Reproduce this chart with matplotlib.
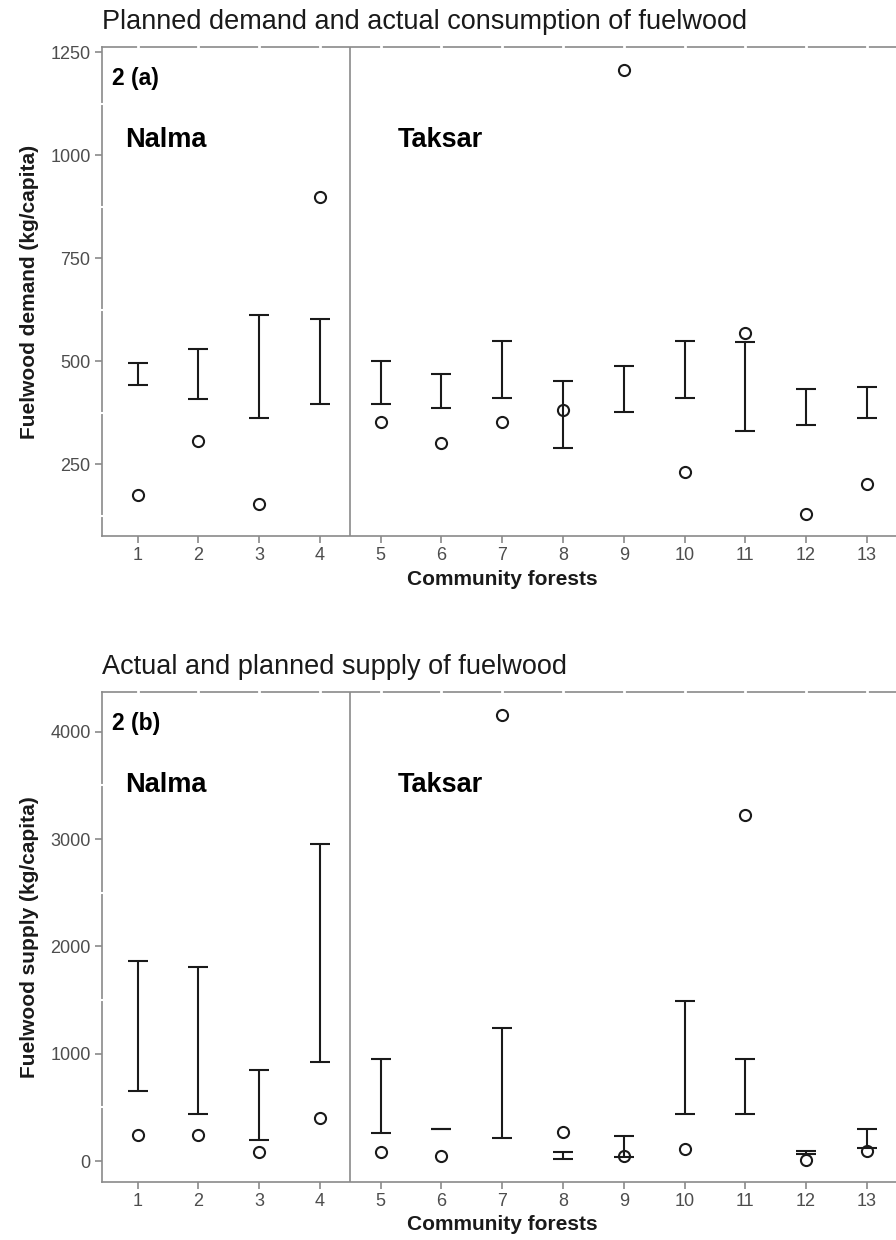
import matplotlib
matplotlib.use("Agg")
import matplotlib.pyplot as plt
import matplotlib.transforms as mtransforms
import numpy as np

plt.rcParams['font.family'] = ['Liberation Sans', 'DejaVu Sans']

# Community forest identifiers (1-4 Nalma, 5-13 Taksar)
forests = list(range(1, 14))
forest_labels = [str(f) for f in forests]

# Panel (a): planned fuelwood demand range and actual consumption (kg/capita)
demand_low = [443, 408, 362, 397, 397, 387, 412, 290, 377, 412, 331, 345, 362]
demand_high = [496, 530, 612, 602, 500, 469, 550, 453, 489, 550, 546, 433, 438]
consumption = [176, 307, 154, 899, 353, 302, 353, 382, 1207, 231, 569, 130, 202]

# Panel (b): planned supply range and actual supply (kg/capita)
supply_low = [650, 435, 196, 923, 258, 295, 214, 19, 34, 435, 435, 68, 118]
supply_high = [1867, 1811, 845, 2951, 948, 295, 1237, 81, 236, 1491, 948, 96, 295]
supply_actual = [242, 242, 87, 404, 87, 47, 4157, 267, 47, 112, 3225, 9, 96]

demand_ticks = [250, 500, 750, 1000, 1250]
supply_ticks = [0, 1000, 2000, 3000, 4000]

AXIS_GREY = '#8a8a8a'
TEXT_GREY = '#4d4d4d'
INK = '#1a1a1a'

fig = plt.figure(figsize=(8.96, 12.4), dpi=100)
ax_a = fig.add_axes([0.1135, 0.5677, 0.894, 0.394])
ax_b = fig.add_axes([0.1135, 0.047, 0.894, 0.3947])


def draw_panel(ax, low, high, points, ticks, ylim, title, ylabel, tag):
    low = np.asarray(low, dtype=float)
    high = np.asarray(high, dtype=float)
    mid = (low + high) / 2
    ax.errorbar(forests, mid, yerr=[mid - low, high - mid], fmt='none',
                ecolor=INK, elinewidth=1.5, capsize=7, capthick=1.5, zorder=3)
    ax.plot(forests, points, linestyle='none', marker='o', markersize=8,
            markerfacecolor='none', markeredgecolor=INK, markeredgewidth=1.5,
            zorder=4)

    ax.set_xlim(0.41, 13.59)
    ax.set_ylim(*ylim)
    ax.set_xticks(forests)
    ax.set_xticklabels(forest_labels)
    ax.set_yticks(ticks)

    # boundary between the two villages
    ax.axvline(4.5, color=AXIS_GREY, lw=1.2, zorder=2)

    for side in ('left', 'bottom', 'top'):
        ax.spines[side].set_color(AXIS_GREY)
        ax.spines[side].set_linewidth(1.2)
    ax.spines['right'].set_visible(False)

    ax.tick_params(axis='both', direction='out', length=5, width=1.2,
                   color=AXIS_GREY, labelcolor=TEXT_GREY, labelsize=13, pad=3)

    # thin breaks in the frame where the panel grid meets it
    top_tr = mtransforms.blended_transform_factory(ax.transData, ax.transAxes)
    for x in forests:
        ax.plot([x, x], [0.995, 1.005], transform=top_tr, color='white',
                lw=2, clip_on=False, zorder=6, solid_capstyle='butt')
    left_tr = mtransforms.blended_transform_factory(ax.transAxes, ax.transData)
    step = ticks[1] - ticks[0]
    for y in np.arange(ticks[0] - step / 2, ticks[-1] + step, step):
        if ylim[0] < y < ylim[1]:
            ax.plot([-0.002, 0.002], [y, y], transform=left_tr, color='white',
                    lw=1.5, clip_on=False, zorder=6, solid_capstyle='butt')

    ax.set_title(title, loc='left', fontsize=19.5, color=INK, pad=13)
    ax.set_xlabel('Community forests', fontsize=15, fontweight='bold',
                  color=INK, labelpad=4)
    ax.set_ylabel(ylabel, fontsize=15, fontweight='bold', color=INK,
                  labelpad=8)

    span = ylim[1] - ylim[0]
    ax.text(0.58, ylim[0] + 0.937 * span, tag, fontsize=16.5,
            fontweight='bold', color='black', va='center', ha='left')
    ax.text(0.79, ylim[0] + 0.81 * span, 'Nalma', fontsize=19.5,
            fontweight='bold', color='black', va='center', ha='left')
    ax.text(5.28, ylim[0] + 0.81 * span, 'Taksar', fontsize=19.5,
            fontweight='bold', color='black', va='center', ha='left')


draw_panel(ax_a, demand_low, demand_high, consumption, demand_ticks,
           (76, 1261), 'Planned demand and actual consumption of fuelwood',
           'Fuelwood demand (kg/capita)', '2 (a)')
draw_panel(ax_b, supply_low, supply_high, supply_actual, supply_ticks,
           (-193, 4368), 'Actual and planned supply of fuelwood',
           'Fuelwood supply (kg/capita)', '2 (b)')

fig.savefig('out.png', dpi=100, facecolor='white')
